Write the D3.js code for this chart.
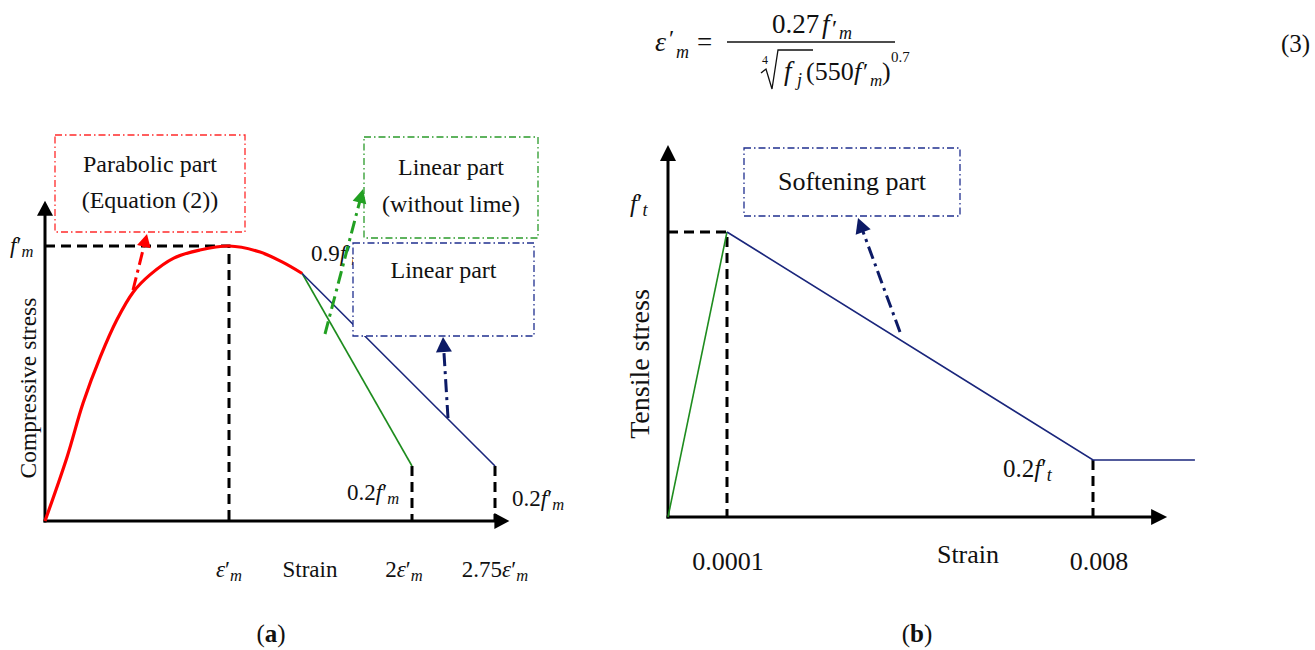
<!DOCTYPE html>
<html>
<head>
<meta charset="utf-8">
<script src="https://cdn.jsdelivr.net/npm/d3@7"></script>
<style>
  html, body { margin: 0; padding: 0; background: #ffffff; }
  svg { display: block; font-family: "Liberation Serif", "Times New Roman", serif; }
</style>
</head>
<body>
<svg id="fig" width="1315" height="650"></svg>
<script>
// ---------- (a) compressive stress-strain model (strain in units of ε'm, stress in units of f'm)
const compStrain = [0, 0.12, 0.207, 0.30, 0.39, 0.48, 0.57, 0.70, 0.84, 1.0, 1.17, 1.29, 1.40];
const compStress = [0, 0.233, 0.429, 0.596, 0.731, 0.833, 0.895, 0.956, 0.985, 1.0, 0.978, 0.942, 0.90];
const noLimeStrain = [1.40, 2.0];
const noLimeStress = [0.90, 0.20];
const linearStrain = [1.40, 2.75];
const linearStress = [0.90, 0.20];
const compTickValues = [1, 2, 2.75];
const compTickCoefs = ["", "2", "2.75"];
const compAxisMax = [2.88, 1.165];

// ---------- (b) tensile stress-strain model (stress in units of f't)
const tensRiseStrain = [0, 0.0001];
const tensRiseStress = [0, 1];
const tensSoftStrain = [0.0001, 0.008, 0.0102];
const tensSoftStress = [1, 0.2, 0.2];
const tensTickValues = [0.0001, 0.008];
const tensTickLabels = ["0.0001", "0.008"];
const tensAxisMax = [0.0096, 1.305];

const svg = d3.select("#fig");
const INK = "#111";
const RED = "#ff0000", GREEN = "#1e8c1e", GREEN_ARROW = "#22a022", NAVY = "#1a267c", NAVY_ARROW = "#0c1a66";

// schematic (piecewise) strain axes
const xA = d3.scaleLinear().domain([0, 1, 2, 2.75]).range([45, 229, 412, 495]);
const yA = d3.scaleLinear().domain([0, 1]).range([521, 246]);
const xB = d3.scaleLinear().domain([0, 0.0001, 0.008]).range([668, 727, 1093]);
const yB = d3.scaleLinear().domain([0, 1]).range([517, 232]);

const zip = (xs, ys) => xs.map((x, i) => [x, ys[i]]);

function arrowLine(g, x1, y1, x2, y2, opt) {
  const len = Math.hypot(x2 - x1, y2 - y1);
  const ux = (x2 - x1) / len, uy = (y2 - y1) / len;
  const hl = opt.head, hw = opt.half;
  const bx = x2 - ux * hl, by = y2 - uy * hl;
  g.append("line")
    .attr("x1", x1).attr("y1", y1).attr("x2", bx + ux).attr("y2", by + uy)
    .attr("stroke", opt.color).attr("stroke-width", opt.width)
    .attr("stroke-dasharray", opt.dash || null);
  g.append("path")
    .attr("d", `M${x2},${y2}L${bx - uy * hw},${by + ux * hw}L${bx + uy * hw},${by - ux * hw}Z`)
    .attr("fill", opt.color);
}

function dashedRef(g, pts) {
  g.append("path")
    .attr("d", d3.line()(pts))
    .attr("fill", "none").attr("stroke", "#000").attr("stroke-width", 3)
    .attr("stroke-dasharray", "10,6");
}

// f′ with italic subscript, e.g. 0.2f′m
function primed(text, coef, base, sub) {
  if (coef) text.append("tspan").text(coef);
  text.append("tspan").attr("font-style", "italic").text(base);
  text.append("tspan").text("′");
  text.append("tspan").attr("font-style", "italic").attr("font-size", "0.72em").attr("dy", "0.22em").text(sub);
}

function box(g, x, y, w, h, color, lines, fs, baselines) {
  g.append("rect").attr("x", x).attr("y", y).attr("width", w).attr("height", h)
    .attr("fill", "#fff").attr("stroke", color).attr("stroke-width", 1.3)
    .attr("stroke-dasharray", "7,3,1.5,3");
  lines.forEach((s, i) => {
    g.append("text").attr("x", x + w / 2).attr("y", baselines[i])
      .attr("text-anchor", "middle").attr("font-size", fs).attr("fill", INK).text(s);
  });
}

// one piece of the typeset equation
function piece(g, x, y, size, str, italic) {
  return g.append("text").attr("x", x).attr("y", y).attr("font-size", size)
    .attr("font-style", italic ? "italic" : null).attr("fill", INK).text(str);
}

// ================= Equation (3) =================
const eq = svg.append("g");
piece(eq, 655, 51, 28, "ε", true);
piece(eq, 669, 46, 24, "′", false);
piece(eq, 676, 58, 18, "m", true);
piece(eq, 697, 51, 27, "=", false);
eq.append("line").attr("x1", 727).attr("x2", 895).attr("y1", 42).attr("y2", 42)
  .attr("stroke", INK).attr("stroke-width", 1.3);
// numerator 0.27 f′m
piece(eq, 772, 33, 27, "0.27", false);
piece(eq, 822, 33, 27, "f", true);
piece(eq, 832, 36, 24, "′", false);
piece(eq, 839, 39, 18, "m", true);
// denominator ⁴√fj (550 f′m)^0.7
eq.append("path").attr("d", "M761,73L766,69L772,89L778,50L813,50")
  .attr("fill", "none").attr("stroke", INK).attr("stroke-width", 1.3);
piece(eq, 762, 64, 12, "4", false);
piece(eq, 784, 80, 27, "f", true);
piece(eq, 797, 86, 18, "j", true);
piece(eq, 806, 80, 26, "(550", false);
piece(eq, 854, 80, 26, "f", true);
piece(eq, 863, 79, 24, "′", false);
piece(eq, 870, 86, 17, "m", true);
piece(eq, 882, 80, 26, ")", false);
piece(eq, 891, 62, 15, "0.7", false);
piece(eq, 1281, 52, 25, "(3)", false);

// ================= Panel (a) =================
const ga = svg.append("g");

dashedRef(ga, [[xA(0), yA(1)], [xA(1), yA(1)], [xA(1), yA(0)]]);
dashedRef(ga, [[xA(2), yA(0.2)], [xA(2), yA(0)]]);
dashedRef(ga, [[xA(2.75), yA(0.2)], [xA(2.75), yA(0)]]);

arrowLine(ga, xA(0), yA(0) + 1.5, xA(0), yA(compAxisMax[1]), { color: "#000", width: 3, head: 15, half: 8 });
arrowLine(ga, xA(0) - 1.5, yA(0), xA(compAxisMax[0]), yA(0), { color: "#000", width: 3, head: 15, half: 8 });

ga.append("path")
  .attr("d", d3.line().x(d => xA(d[0])).y(d => yA(d[1])).curve(d3.curveCatmullRom.alpha(0.5))(zip(compStrain, compStress)))
  .attr("fill", "none").attr("stroke", RED).attr("stroke-width", 3.2).attr("stroke-linejoin", "round");
ga.append("path")
  .attr("d", d3.line().x(d => xA(d[0])).y(d => yA(d[1]))(zip(noLimeStrain, noLimeStress)))
  .attr("fill", "none").attr("stroke", GREEN).attr("stroke-width", 1.6);
ga.append("path")
  .attr("d", d3.line().x(d => xA(d[0])).y(d => yA(d[1]))(zip(linearStrain, linearStress)))
  .attr("fill", "none").attr("stroke", NAVY).attr("stroke-width", 1.6);

primed(ga.append("text").attr("x", 10).attr("y", 253).attr("font-size", 23).attr("fill", INK), "", "f", "m");
primed(ga.append("text").attr("x", 311).attr("y", 261).attr("font-size", 23).attr("fill", INK), "0.9", "f", "m");
primed(ga.append("text").attr("x", 347).attr("y", 500).attr("font-size", 23).attr("fill", INK), "0.2", "f", "m");
primed(ga.append("text").attr("x", 512).attr("y", 506).attr("font-size", 23).attr("fill", INK), "0.2", "f", "m");

compTickValues.forEach((v, i) => {
  const t = ga.append("text").attr("x", xA(v)).attr("y", 577).attr("font-size", 23)
    .attr("dx", i === 1 ? -8 : 0)
    .attr("text-anchor", "middle").attr("fill", INK);
  if (compTickCoefs[i]) t.append("tspan").text(compTickCoefs[i]);
  t.append("tspan").attr("font-style", "italic").text("ε");
  t.append("tspan").text("′");
  t.append("tspan").attr("font-style", "italic").attr("font-size", "0.72em").attr("dy", "0.22em").text("m");
});
ga.append("text").attr("x", 310).attr("y", 577).attr("font-size", 23).attr("text-anchor", "middle").attr("fill", INK).text("Strain");
ga.append("text").attr("transform", "translate(36,388) rotate(-90)").attr("font-size", 23.5)
  .attr("text-anchor", "middle").attr("fill", INK).text("Compressive stress");

box(ga, 55, 135, 190, 97, "#ff2a2a", ["Parabolic part", "(Equation (2))"], 24, [172, 208]);
box(ga, 364, 137, 174, 101, "#2a9a2a", ["Linear part", "(without lime)"], 24, [175, 212]);
box(ga, 353, 243, 181, 93, "#1f2f8f", ["Linear part"], 24, [278]);

arrowLine(ga, 133, 290, 147, 234, { color: RED, width: 3, head: 13, half: 7, dash: "13,5,3,5" });
arrowLine(ga, 325, 334, 363, 189, { color: GREEN_ARROW, width: 3, head: 14, half: 7, dash: "13,5,3,5" });
arrowLine(ga, 448, 418, 443, 337, { color: NAVY_ARROW, width: 3, head: 15, half: 8, dash: "13,5,3,5" });

{
  const c = ga.append("text").attr("x", 271).attr("y", 642).attr("font-size", 25).attr("text-anchor", "middle").attr("fill", INK);
  c.append("tspan").text("(");
  c.append("tspan").attr("font-weight", "bold").text("a");
  c.append("tspan").text(")");
}

// ================= Panel (b) =================
const gb = svg.append("g");

dashedRef(gb, [[xB(0), yB(1)], [xB(0.0001), yB(1)], [xB(0.0001), yB(0)]]);
dashedRef(gb, [[xB(0.008), yB(0.2)], [xB(0.008), yB(0)]]);

arrowLine(gb, xB(0), yB(0) + 1.5, xB(0), yB(tensAxisMax[1]), { color: "#000", width: 3, head: 16, half: 8 });
arrowLine(gb, xB(0) - 1.5, yB(0), xB(tensAxisMax[0]), yB(0), { color: "#000", width: 3, head: 16, half: 8 });

gb.append("path")
  .attr("d", d3.line().x(d => xB(d[0])).y(d => yB(d[1]))(zip(tensRiseStrain, tensRiseStress)))
  .attr("fill", "none").attr("stroke", GREEN).attr("stroke-width", 1.6);
gb.append("path")
  .attr("d", d3.line().x(d => xB(d[0])).y(d => yB(d[1]))(zip(tensSoftStrain, tensSoftStress)))
  .attr("fill", "none").attr("stroke", NAVY).attr("stroke-width", 1.6);

primed(gb.append("text").attr("x", 630).attr("y", 212).attr("font-size", 25).attr("fill", INK), "", "f", "t");
primed(gb.append("text").attr("x", 1003).attr("y", 477).attr("font-size", 25).attr("fill", INK), "0.2", "f", "t");

tensTickValues.forEach((v, i) => {
  gb.append("text").attr("x", xB(v)).attr("y", 570).attr("font-size", 26)
    .attr("dx", i === 1 ? 6 : 1)
    .attr("text-anchor", "middle").attr("fill", INK).text(tensTickLabels[i]);
});
gb.append("text").attr("x", 968).attr("y", 563).attr("font-size", 26).attr("text-anchor", "middle").attr("fill", INK).text("Strain");
gb.append("text").attr("transform", "translate(649,364) rotate(-90)").attr("font-size", 28)
  .attr("text-anchor", "middle").attr("fill", INK).text("Tensile stress");

box(gb, 744, 148, 216, 68, "#1f2f8f", ["Softening part"], 26, [190]);
arrowLine(gb, 900, 332, 858, 218, { color: NAVY_ARROW, width: 3, head: 15, half: 8, dash: "13,5,3,5" });

{
  const c = gb.append("text").attr("x", 917).attr("y", 642).attr("font-size", 25).attr("text-anchor", "middle").attr("fill", INK);
  c.append("tspan").text("(");
  c.append("tspan").attr("font-weight", "bold").text("b");
  c.append("tspan").text(")");
}
</script>
</body>
</html>
